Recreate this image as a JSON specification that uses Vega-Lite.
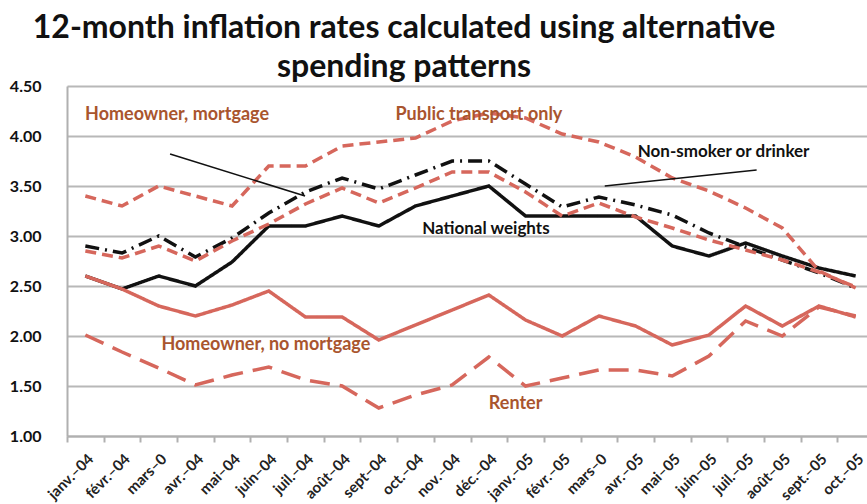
{
  "$schema": "https://vega.github.io/schema/vega-lite/v6.json",
  "width": 800,
  "height": 350,
  "autosize": {"type": "none"},
  "padding": {"left": 67, "top": 86, "right": 0, "bottom": 68},
  "background": "white",
  "config": {"view": {"stroke": null}},
  "title": {
    "text": ["12-month inflation rates calculated using alternative", "spending patterns"],
    "font": "Lato",
    "fontSize": 32,
    "fontWeight": "bold",
    "color": "#111111",
    "anchor": "middle",
    "dx": -63,
    "dy": 6,
    "lineHeight": 39,
    "offset": 0
  },
  "datasets": {
    "series": [
      {"month":"2004-01","series":"National weights","value":2.60},
      {"month":"2004-02","series":"National weights","value":2.47},
      {"month":"2004-03","series":"National weights","value":2.60},
      {"month":"2004-04","series":"National weights","value":2.50},
      {"month":"2004-05","series":"National weights","value":2.74},
      {"month":"2004-06","series":"National weights","value":3.10},
      {"month":"2004-07","series":"National weights","value":3.10},
      {"month":"2004-08","series":"National weights","value":3.20},
      {"month":"2004-09","series":"National weights","value":3.10},
      {"month":"2004-10","series":"National weights","value":3.30},
      {"month":"2004-11","series":"National weights","value":3.40},
      {"month":"2004-12","series":"National weights","value":3.50},
      {"month":"2005-01","series":"National weights","value":3.20},
      {"month":"2005-02","series":"National weights","value":3.20},
      {"month":"2005-03","series":"National weights","value":3.20},
      {"month":"2005-04","series":"National weights","value":3.20},
      {"month":"2005-05","series":"National weights","value":2.90},
      {"month":"2005-06","series":"National weights","value":2.80},
      {"month":"2005-07","series":"National weights","value":2.93},
      {"month":"2005-08","series":"National weights","value":2.80},
      {"month":"2005-09","series":"National weights","value":2.68},
      {"month":"2005-10","series":"National weights","value":2.60},
      {"month":"2004-01","series":"Non-smoker or drinker","value":2.90},
      {"month":"2004-02","series":"Non-smoker or drinker","value":2.83},
      {"month":"2004-03","series":"Non-smoker or drinker","value":3.00},
      {"month":"2004-04","series":"Non-smoker or drinker","value":2.79},
      {"month":"2004-05","series":"Non-smoker or drinker","value":2.98},
      {"month":"2004-06","series":"Non-smoker or drinker","value":3.23},
      {"month":"2004-07","series":"Non-smoker or drinker","value":3.44},
      {"month":"2004-08","series":"Non-smoker or drinker","value":3.58},
      {"month":"2004-09","series":"Non-smoker or drinker","value":3.47},
      {"month":"2004-10","series":"Non-smoker or drinker","value":3.61},
      {"month":"2004-11","series":"Non-smoker or drinker","value":3.75},
      {"month":"2004-12","series":"Non-smoker or drinker","value":3.75},
      {"month":"2005-01","series":"Non-smoker or drinker","value":3.52},
      {"month":"2005-02","series":"Non-smoker or drinker","value":3.29},
      {"month":"2005-03","series":"Non-smoker or drinker","value":3.39},
      {"month":"2005-04","series":"Non-smoker or drinker","value":3.31},
      {"month":"2005-05","series":"Non-smoker or drinker","value":3.21},
      {"month":"2005-06","series":"Non-smoker or drinker","value":3.03},
      {"month":"2005-07","series":"Non-smoker or drinker","value":2.89},
      {"month":"2005-08","series":"Non-smoker or drinker","value":2.76},
      {"month":"2005-09","series":"Non-smoker or drinker","value":2.63},
      {"month":"2005-10","series":"Non-smoker or drinker","value":2.48},
      {"month":"2004-01","series":"Homeowner, mortgage","value":2.85},
      {"month":"2004-02","series":"Homeowner, mortgage","value":2.78},
      {"month":"2004-03","series":"Homeowner, mortgage","value":2.90},
      {"month":"2004-04","series":"Homeowner, mortgage","value":2.75},
      {"month":"2004-05","series":"Homeowner, mortgage","value":2.95},
      {"month":"2004-06","series":"Homeowner, mortgage","value":3.12},
      {"month":"2004-07","series":"Homeowner, mortgage","value":3.32},
      {"month":"2004-08","series":"Homeowner, mortgage","value":3.48},
      {"month":"2004-09","series":"Homeowner, mortgage","value":3.33},
      {"month":"2004-10","series":"Homeowner, mortgage","value":3.48},
      {"month":"2004-11","series":"Homeowner, mortgage","value":3.64},
      {"month":"2004-12","series":"Homeowner, mortgage","value":3.64},
      {"month":"2005-01","series":"Homeowner, mortgage","value":3.44},
      {"month":"2005-02","series":"Homeowner, mortgage","value":3.20},
      {"month":"2005-03","series":"Homeowner, mortgage","value":3.33},
      {"month":"2005-04","series":"Homeowner, mortgage","value":3.19},
      {"month":"2005-05","series":"Homeowner, mortgage","value":3.08},
      {"month":"2005-06","series":"Homeowner, mortgage","value":2.96},
      {"month":"2005-07","series":"Homeowner, mortgage","value":2.86},
      {"month":"2005-08","series":"Homeowner, mortgage","value":2.76},
      {"month":"2005-09","series":"Homeowner, mortgage","value":2.64},
      {"month":"2005-10","series":"Homeowner, mortgage","value":2.49},
      {"month":"2004-01","series":"Public transport only","value":3.40},
      {"month":"2004-02","series":"Public transport only","value":3.30},
      {"month":"2004-03","series":"Public transport only","value":3.50},
      {"month":"2004-04","series":"Public transport only","value":3.40},
      {"month":"2004-05","series":"Public transport only","value":3.30},
      {"month":"2004-06","series":"Public transport only","value":3.70},
      {"month":"2004-07","series":"Public transport only","value":3.70},
      {"month":"2004-08","series":"Public transport only","value":3.90},
      {"month":"2004-09","series":"Public transport only","value":3.94},
      {"month":"2004-10","series":"Public transport only","value":3.98},
      {"month":"2004-11","series":"Public transport only","value":4.15},
      {"month":"2004-12","series":"Public transport only","value":4.23},
      {"month":"2005-01","series":"Public transport only","value":4.18},
      {"month":"2005-02","series":"Public transport only","value":4.02},
      {"month":"2005-03","series":"Public transport only","value":3.94},
      {"month":"2005-04","series":"Public transport only","value":3.79},
      {"month":"2005-05","series":"Public transport only","value":3.58},
      {"month":"2005-06","series":"Public transport only","value":3.45},
      {"month":"2005-07","series":"Public transport only","value":3.28},
      {"month":"2005-08","series":"Public transport only","value":3.08},
      {"month":"2005-09","series":"Public transport only","value":2.65},
      {"month":"2005-10","series":"Public transport only","value":2.48},
      {"month":"2004-01","series":"Homeowner, no mortgage","value":2.60},
      {"month":"2004-02","series":"Homeowner, no mortgage","value":2.47},
      {"month":"2004-03","series":"Homeowner, no mortgage","value":2.30},
      {"month":"2004-04","series":"Homeowner, no mortgage","value":2.20},
      {"month":"2004-05","series":"Homeowner, no mortgage","value":2.31},
      {"month":"2004-06","series":"Homeowner, no mortgage","value":2.45},
      {"month":"2004-07","series":"Homeowner, no mortgage","value":2.19},
      {"month":"2004-08","series":"Homeowner, no mortgage","value":2.19},
      {"month":"2004-09","series":"Homeowner, no mortgage","value":1.96},
      {"month":"2004-10","series":"Homeowner, no mortgage","value":2.11},
      {"month":"2004-11","series":"Homeowner, no mortgage","value":2.26},
      {"month":"2004-12","series":"Homeowner, no mortgage","value":2.41},
      {"month":"2005-01","series":"Homeowner, no mortgage","value":2.16},
      {"month":"2005-02","series":"Homeowner, no mortgage","value":2.00},
      {"month":"2005-03","series":"Homeowner, no mortgage","value":2.20},
      {"month":"2005-04","series":"Homeowner, no mortgage","value":2.10},
      {"month":"2005-05","series":"Homeowner, no mortgage","value":1.91},
      {"month":"2005-06","series":"Homeowner, no mortgage","value":2.01},
      {"month":"2005-07","series":"Homeowner, no mortgage","value":2.30},
      {"month":"2005-08","series":"Homeowner, no mortgage","value":2.10},
      {"month":"2005-09","series":"Homeowner, no mortgage","value":2.30},
      {"month":"2005-10","series":"Homeowner, no mortgage","value":2.19},
      {"month":"2004-01","series":"Renter","value":2.01},
      {"month":"2004-02","series":"Renter","value":1.84},
      {"month":"2004-03","series":"Renter","value":1.68},
      {"month":"2004-04","series":"Renter","value":1.51},
      {"month":"2004-05","series":"Renter","value":1.61},
      {"month":"2004-06","series":"Renter","value":1.69},
      {"month":"2004-07","series":"Renter","value":1.56},
      {"month":"2004-08","series":"Renter","value":1.50},
      {"month":"2004-09","series":"Renter","value":1.28},
      {"month":"2004-10","series":"Renter","value":1.41},
      {"month":"2004-11","series":"Renter","value":1.51},
      {"month":"2004-12","series":"Renter","value":1.79},
      {"month":"2005-01","series":"Renter","value":1.50},
      {"month":"2005-02","series":"Renter","value":1.58},
      {"month":"2005-03","series":"Renter","value":1.66},
      {"month":"2005-04","series":"Renter","value":1.66},
      {"month":"2005-05","series":"Renter","value":1.60},
      {"month":"2005-06","series":"Renter","value":1.80},
      {"month":"2005-07","series":"Renter","value":2.15},
      {"month":"2005-08","series":"Renter","value":2.00},
      {"month":"2005-09","series":"Renter","value":2.29},
      {"month":"2005-10","series":"Renter","value":2.20}
    ],
    "brownLabels": [
      {"pos": 3.0, "val": 4.21, "text": "Homeowner, mortgage"},
      {"pos": 11.23, "val": 4.21, "text": "Public transport only"},
      {"pos": 5.42, "val": 1.91, "text": "Homeowner, no mortgage"},
      {"pos": 12.23, "val": 1.32, "text": "Renter"}
    ],
    "blackLabels": [
      {"pos": 17.9, "val": 3.84, "text": "Non-smoker or drinker"},
      {"pos": 11.42, "val": 3.07, "text": "National weights"}
    ],
    "pointers": [
      {"p1": 2.81, "v1": 3.82, "p2": 6.49, "v2": 3.40},
      {"p1": 14.66, "v1": 3.50, "p2": 18.8, "v2": 3.66}
    ]
  },
  "layer": [
    {
      "data": {"name": "series"},
      "mark": {"type": "line", "strokeCap": "butt", "strokeJoin": "miter"},
      "encoding": {
        "x": {
          "field": "month",
          "type": "ordinal",
          "scale": {"type": "band", "range": [0, 807], "paddingInner": 0, "paddingOuter": 0},
          "axis": {
            "title": null,
            "labelExpr": "{'2004-01':'janv.–04','2004-02':'févr.–04','2004-03':'mars–0','2004-04':'avr.–04','2004-05':'mai–04','2004-06':'juin–04','2004-07':'juil.–04','2004-08':'août–04','2004-09':'sept–04','2004-10':'oct.–04','2004-11':'nov.–04','2004-12':'déc.–04','2005-01':'janv.–05','2005-02':'févr.–05','2005-03':'mars–0','2005-04':'avr.–05','2005-05':'mai–05','2005-06':'juin–05','2005-07':'juil.–05','2005-08':'août–05','2005-09':'sept.–05','2005-10':'oct.–05'}[datum.value]",
            "labelAngle": -45,
            "labelFont": "Lato",
            "labelFontSize": 15,
            "labelFontWeight": "bold",
            "labelColor": "#222222",
            "labelPadding": 9,
            "tickBand": "extent",
            "ticks": true,
            "tickSize": 6,
            "tickColor": "#b0b0b0",
            "tickWidth": 2,
            "domainColor": "#b0b0b0",
            "domainWidth": 2,
            "grid": false
          }
        },
        "y": {
          "field": "value",
          "type": "quantitative",
          "scale": {"domain": [1, 4.5], "nice": false, "zero": false},
          "axis": {
            "title": null,
            "values": [1, 1.5, 2, 2.5, 3, 3.5, 4, 4.5],
            "format": ".2f",
            "labelFont": "Lato",
            "labelFontSize": 16,
            "labelFontWeight": "bold",
            "labelColor": "#111111",
            "labelPadding": 26,
            "ticks": false,
            "domainColor": "#b0b0b0",
            "domainWidth": 2,
            "grid": true,
            "gridColor": "#b8b8b8",
            "gridWidth": 2
          }
        },
        "color": {
          "field": "series",
          "type": "nominal",
          "scale": {
            "domain": ["Renter", "Homeowner, no mortgage", "Public transport only", "Homeowner, mortgage", "Non-smoker or drinker", "National weights"],
            "range": ["#d6675c", "#d6675c", "#d6675c", "#d6675c", "#111111", "#111111"]
          },
          "legend": null
        },
        "strokeDash": {
          "field": "series",
          "type": "nominal",
          "scale": {
            "domain": ["Renter", "Homeowner, no mortgage", "Public transport only", "Homeowner, mortgage", "Non-smoker or drinker", "National weights"],
            "range": [[20, 10], [1, 0], [11, 6], [11, 6], [14, 6, 2, 6], [1, 0]]
          },
          "legend": null
        },
        "strokeWidth": {
          "field": "series",
          "type": "nominal",
          "scale": {
            "domain": ["Renter", "Homeowner, no mortgage", "Public transport only", "Homeowner, mortgage", "Non-smoker or drinker", "National weights"],
            "range": [3.5, 3.5, 3.5, 3.5, 3, 3]
          },
          "legend": null
        }
      }
    },
    {
      "data": {"name": "pointers"},
      "mark": {"type": "rule", "color": "#111111", "strokeWidth": 1.5},
      "encoding": {
        "x": {"field": "p1", "type": "quantitative", "scale": {"domain": [0, 22], "range": [0, 807], "nice": false, "zero": false}, "axis": null},
        "x2": {"field": "p2"},
        "y": {"field": "v1", "type": "quantitative"},
        "y2": {"field": "v2"}
      }
    },
    {
      "data": {"name": "brownLabels"},
      "mark": {"type": "text", "font": "Lato", "fontSize": 18, "fontWeight": "bold", "color": "#a9552e", "align": "center", "baseline": "middle"},
      "encoding": {
        "x": {"field": "pos", "type": "quantitative", "scale": {"domain": [0, 22], "range": [0, 807], "nice": false, "zero": false}, "axis": null},
        "y": {"field": "val", "type": "quantitative"},
        "text": {"field": "text"}
      }
    },
    {
      "data": {"name": "blackLabels"},
      "mark": {"type": "text", "font": "Lato", "fontSize": 17, "fontWeight": "bold", "color": "#111111", "align": "center", "baseline": "middle"},
      "encoding": {
        "x": {"field": "pos", "type": "quantitative", "scale": {"domain": [0, 22], "range": [0, 807], "nice": false, "zero": false}, "axis": null},
        "y": {"field": "val", "type": "quantitative"},
        "text": {"field": "text"}
      }
    }
  ],
  "resolve": {"scale": {"x": "independent"}}
}
